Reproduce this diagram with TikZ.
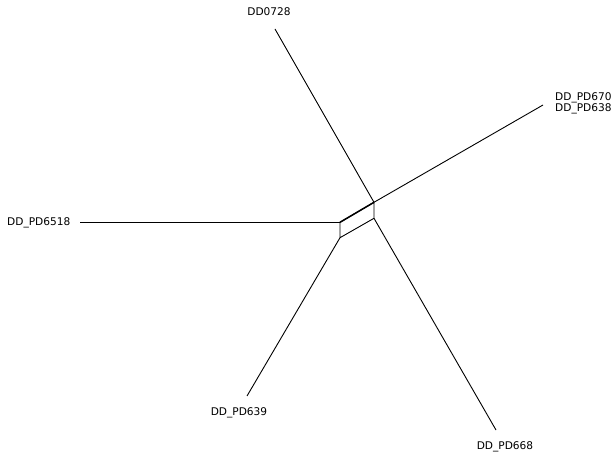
\documentclass[tikz,border=0pt]{standalone}
\usepackage{fontspec}
\setmainfont{DejaVu Sans}
\begin{document}
\begin{tikzpicture}[x=1pt,y=-1pt,
  edge/.style={line width=0.9pt,black},
  lab/.style={font=\fontsize{10.6}{11.5}\selectfont,inner sep=0pt}]
\useasboundingbox (0,0) rectangle (613,454);
\coordinate (a) at (374,202.3);
\coordinate (b) at (374,218.3);
\coordinate (c) at (340,222.3);
\coordinate (d) at (340,237.7);
\coordinate (t1) at (275,29);
\coordinate (t2) at (543,105);
\coordinate (t3) at (80,222.3);
\coordinate (t4) at (247,396);
\coordinate (t5) at (496,430);
\draw[edge] (t1) -- (a);
\draw[edge] (t2) -- (a);
\draw[edge] (t3) -- (c);
\draw[edge] (t4) -- (d);
\draw[edge] (t5) -- (b);
\draw[edge] (a) -- (b) -- (d) -- (c) -- cycle;
\draw[line width=1.5pt] (c) -- (a);
\node[lab] (n1) at (269,12) {DD0728};
\node[lab,anchor=west] (n2) at (555,98) {DD\_PD670};
\node[lab,anchor=west] (n3) at (555,109) {DD\_PD638};
\node[lab,anchor=west] (n4) at (7,223) {DD\_PD6518};
\node[lab] (n5) at (239,413) {DD\_PD639};
\node[lab] (n6) at (505,447) {DD\_PD668};
\end{tikzpicture}
\end{document}
